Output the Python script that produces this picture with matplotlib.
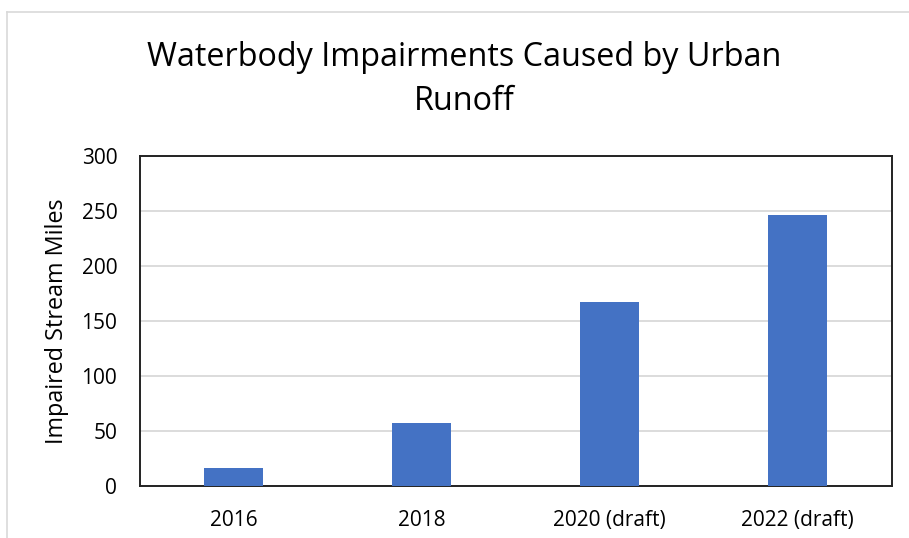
import matplotlib
matplotlib.use("Agg")
import matplotlib.pyplot as plt
from matplotlib.lines import Line2D

categories = ["2016", "2018", "2020 (draft)", "2022 (draft)"]
values = [16, 57, 167, 246]
yticks = [0, 50, 100, 150, 200, 250, 300]

plt.rcParams['font.family'] = ['Open Sans', 'DejaVu Sans']

fig = plt.figure(figsize=(9.09, 5.38), dpi=100)
fig.patch.set_facecolor("white")

ax = fig.add_axes([139.5/909, (538-486)/538, (891.5-139.5)/909, (486-156)/538])
x = list(range(len(categories)))
ax.bar(x, values, width=0.31, color="#4472C4", zorder=3)
ax.set_xlim(-0.5, len(categories) - 0.5)
ax.set_ylim(0, 300)
ax.set_yticks(yticks)
ax.set_yticklabels([str(v) for v in yticks])
ax.set_xticks(x)
ax.set_xticklabels(categories)
ax.yaxis.grid(True, color="#D9D9D9", linewidth=1.3, zorder=0)
ax.set_axisbelow(True)
ax.tick_params(axis='both', length=0, labelsize=15, colors="black")
ax.tick_params(axis='y', pad=16)
ax.tick_params(axis='x', pad=17)
for s in ax.spines.values():
    s.set_linewidth(1.4)
    s.set_color("#222222")
ax.set_ylabel("Impaired Stream Miles", fontsize=16.8, labelpad=9)

fig.text(464/909, 1 - 57/538, "Waterbody Impairments Caused by Urban",
         ha="center", va="center", fontsize=23.3)
fig.text(464/909, 1 - 101/538, "Runoff", ha="center", va="center", fontsize=23.3)

# outer chart frame (left and top edges visible)
fig.add_artist(Line2D([7/909, 7/909], [0, 1 - 12/538], transform=fig.transFigure,
                      color="#D9D9D9", linewidth=1.2))
fig.add_artist(Line2D([7/909, 1], [1 - 12/538, 1 - 12/538], transform=fig.transFigure,
                      color="#D9D9D9", linewidth=1.2))

fig.savefig("out.png", dpi=100, facecolor="white")
